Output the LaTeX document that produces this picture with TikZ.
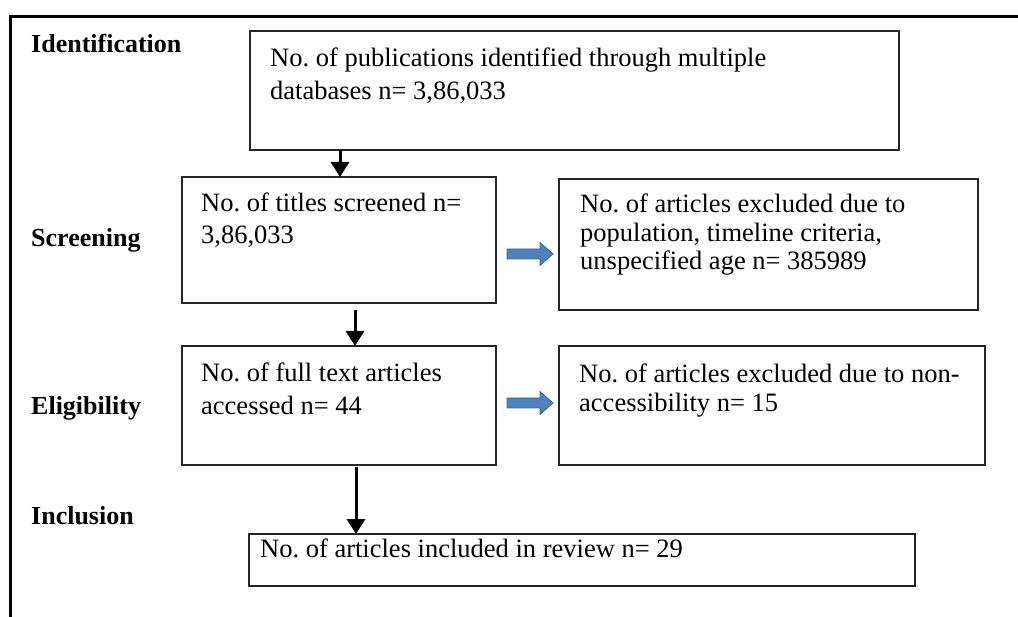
\documentclass[tikz,border=0pt]{standalone}
\usepackage{fontspec}
\setmainfont{Liberation Serif}
\usetikzlibrary{arrows.meta,calc}
\definecolor{blockfill}{HTML}{4F81BD}
\definecolor{blockline}{HTML}{3A6596}
\frenchspacing
\begin{document}
\begin{tikzpicture}[x=1pt,y=-1pt,
  box/.style={draw=black!85, line width=1.4pt, rectangle, inner sep=0pt, outer sep=0pt, anchor=north west},
  txt/.style={anchor=base west, inner sep=0pt, font=\fontsize{26.5}{30}\selectfont},
  lbl/.style={anchor=base west, inner sep=0pt, font=\fontsize{26}{30}\selectfont\bfseries},
  arr/.style={line width=3pt, -{Triangle[width=18pt,length=15pt]}},
  blockarrow/.style={fill=blockfill, draw=blockline, line width=0.8pt},
  frame/.style={line width=3pt}
]
\useasboundingbox (0,0) rectangle (1018,617);

% outer frame (open at right and bottom)
\coordinate (fr) at (1025,17);
\coordinate (fc) at (10,17);
\coordinate (fb) at (10,625);
\draw[frame] (fr) -- (fc) -- (fb);

% boxes
\node[box, minimum width=649pt, minimum height=119pt] (box1) at (250,31) {};
\node[box, minimum width=314pt, minimum height=126pt] (box2) at (182,177) {};
\node[box, minimum width=419pt, minimum height=131pt] (box3) at (559,179) {};
\node[box, minimum width=314pt, minimum height=119pt] (box4) at (182,346) {};
\node[box, minimum width=426pt, minimum height=119pt] (box5) at (559,346) {};
\node[box, minimum width=666pt, minimum height=52pt] (box6) at (249,534) {};

% stage labels
\node[lbl] (lid) at (31,53) {Identification};
\node[lbl] (lsc) at (31,247) {Screening};
\node[lbl] (lel) at (31,415) {Eligibility};
\node[lbl] (lin) at (31,525) {Inclusion};

% box texts
\node[txt] (t1a) at (270,67) {No. of publications identified through multiple};
\node[txt] (t1b) at (270,100) {databases n= 3,86,033};
\node[txt] (t2a) at (201,212) {No. of titles screened n=};
\node[txt] (t2b) at (201,244) {3,86,033};
\node[txt] (t3a) at (580,213) {No. of articles excluded due to};
\node[txt] (t3b) at (580,241.5) {population, timeline criteria,};
\node[txt] (t3c) at (580,270) {unspecified age n= 385989};
\node[txt] (t4a) at (201,382) {No. of full text articles};
\node[txt] (t4b) at (201,415) {accessed n= 44};
\node[txt] (t5a) at (579,383) {No. of articles excluded due to non-};
\node[txt] (t5b) at (579,412) {accessibility n= 15};
\node[txt] (t6a) at (260,557) {No. of articles included in review n= 29};

% vertical connectors
\coordinate (a1) at (340,0);
\coordinate (a2) at (355,0);
\coordinate (a3) at (356,0);
\draw[arr] (a1 |- box1.south) -- (a1 |- box2.north);
\draw[arr] ($(a2 |- box2.south)+(0,7)$) -- (a2 |- box4.north);
\draw[arr] ($(a3 |- box4.south)+(0,2)$) -- (a3 |- box6.north);

% block arrows
\coordinate (b1) at (507,254);
\coordinate (b2) at (507,403);
\draw[blockarrow] (b1) ++(0,-5) -- ++(33,0) -- ++(0,-6.5) -- ++(13,11.5) -- ++(-13,11.5) -- ++(0,-6.5) -- ++(-33,0) -- cycle;
\draw[blockarrow] (b2) ++(0,-5) -- ++(33,0) -- ++(0,-6.5) -- ++(13,11.5) -- ++(-13,11.5) -- ++(0,-6.5) -- ++(-33,0) -- cycle;
\end{tikzpicture}
\end{document}
